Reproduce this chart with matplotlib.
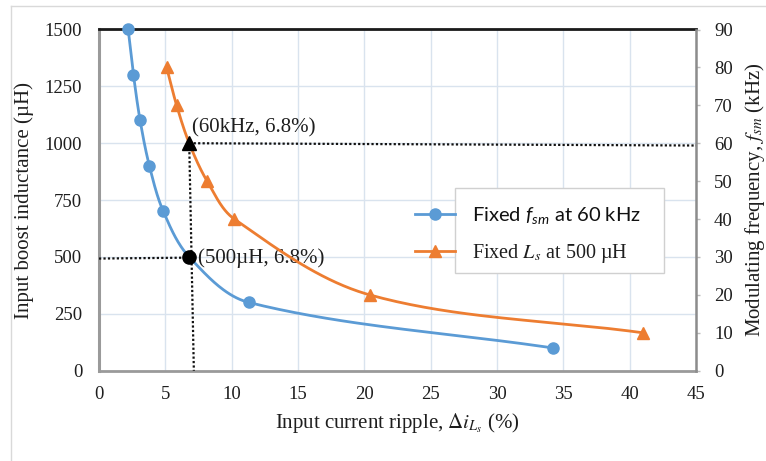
import numpy as np
import matplotlib
matplotlib.use("Agg")
import matplotlib.pyplot as plt
from matplotlib.patches import Rectangle
from matplotlib.lines import Line2D

# Fixed modulating frequency (60 kHz): inductance vs. ripple
ripple_fixed_f = [2.2, 2.6, 3.1, 3.8, 4.85, 6.8, 11.3, 34.2]
inductance_uH = [1500, 1300, 1100, 900, 700, 500, 300, 100]

# Fixed inductance (500 uH): modulating frequency vs. ripple
ripple_fixed_L = [5.1, 5.85, 6.8, 8.15, 10.2, 20.4, 41.0]
freq_kHz = [80, 70, 60, 50, 40, 20, 10]

# Highlighted design point
design_ripple = 6.8
design_L = 500
design_f = 60

x_ticks = [0, 5, 10, 15, 20, 25, 30, 35, 40, 45]
left_ticks = [0, 250, 500, 750, 1000, 1250, 1500]
right_ticks = [0, 10, 20, 30, 40, 50, 60, 70, 80, 90]

BLUE = "#5B9BD5"
ORANGE = "#ED7D31"
GRID = "#D9E3EE"
SERIF = "Liberation Serif"
TXT = "#1E1E1E"

plt.rcParams["mathtext.fontset"] = "custom"
plt.rcParams["mathtext.rm"] = "Lato"
plt.rcParams["mathtext.it"] = "Lato:italic"
plt.rcParams["mathtext.bf"] = "Lato:bold"


def smooth(ax, xs, ys, n=40, k=0.33):
    """Bezier smoothing in display space; handle length follows each chord."""
    pts = ax.transData.transform(np.column_stack([xs, ys]))
    P = np.vstack([pts[0], pts, pts[-1]])
    out = []
    t = np.linspace(0, 1, n)[:, None]

    def unit(v):
        nrm = np.hypot(*v)
        return v / nrm if nrm > 0 else v

    for i in range(1, len(P) - 2):
        p0, p1, p2, p3 = P[i - 1], P[i], P[i + 1], P[i + 2]
        L = np.hypot(*(p2 - p1))
        c1 = p1 + unit(p2 - p0) * L * k
        c2 = p2 - unit(p3 - p1) * L * k
        seg = ((1 - t) ** 3) * p1 + 3 * ((1 - t) ** 2) * t * c1 + 3 * (1 - t) * t ** 2 * c2 + t ** 3 * p2
        out.append(seg if i == 1 else seg[1:])
    curve = np.vstack(out)
    d = ax.transData.inverted().transform(curve)
    return d[:, 0], d[:, 1]


fig = plt.figure(figsize=(7.66, 4.61), dpi=100)
fig.patch.set_facecolor("white")
W, H = 766, 461

# thin outer frame
fig.add_artist(Line2D([11 / W, 1.0], [1 - 6 / H, 1 - 6 / H], transform=fig.transFigure, color="#D9D9D9", lw=1.0))
fig.add_artist(Line2D([11 / W, 11 / W], [0.0, 1 - 6 / H], transform=fig.transFigure, color="#D9D9D9", lw=1.0))

ax = fig.add_axes([99 / W, 1 - 370.7 / H, (696 - 99) / W, (370.7 - 29.5) / H])
ax2 = ax.twinx()

ax.set_xlim(0, 45)
ax.set_ylim(0, 1500)
ax2.set_ylim(0, 90)

ax.set_xticks(x_ticks)
ax.set_yticks(left_ticks)
ax2.set_yticks(right_ticks)

ax.grid(True, color=GRID, lw=1.0)
ax.set_axisbelow(True)

for a in (ax, ax2):
    for s in a.spines.values():
        s.set_visible(False)
ax.spines["left"].set_visible(True)
ax.spines["left"].set_color("#9A9A9A")
ax.spines["left"].set_linewidth(2.2)
ax.spines["bottom"].set_visible(True)
ax.spines["bottom"].set_color("#9A9A9A")
ax.spines["bottom"].set_linewidth(2.0)
ax.spines["top"].set_visible(True)
ax.spines["top"].set_color("#1A1A1A")
ax.spines["top"].set_linewidth(2.0)
ax2.spines["right"].set_visible(True)
ax2.spines["right"].set_color("#8C8C8C")
ax2.spines["right"].set_linewidth(1.8)

ax.tick_params(axis="both", length=0, labelsize=13.5, colors=TXT)
ax.tick_params(axis="x", pad=11)
ax.tick_params(axis="y", pad=12)
ax2.tick_params(axis="y", length=3, width=1, color="#BBBBBB", labelsize=13.5, labelcolor=TXT, pad=10)
for lab in ax.get_xticklabels() + ax.get_yticklabels() + ax2.get_yticklabels():
    lab.set_fontfamily(SERIF)

ax.set_xlabel(r"Input current ripple, $\Delta i_{L_s}$ (%)", fontsize=15, family=SERIF,
              math_fontfamily="stix", labelpad=6, color=TXT)
ax.set_ylabel("Input boost inductance (\u00b5H)", fontsize=15, family=SERIF, labelpad=8, color=TXT)
ax2.set_ylabel(r"Modulating frequency, $f_{sm}$ (kHz)", fontsize=15, family=SERIF,
               math_fontfamily="stix", labelpad=7, color=TXT)

ax.figure.canvas.draw()

# series
bx, by = smooth(ax, ripple_fixed_f, inductance_uH)
ax.plot(bx, by, color=BLUE, lw=2.0, zorder=3)
ax.plot(ripple_fixed_f, inductance_uH, "o", color=BLUE, ms=8, zorder=4, clip_on=False)

ox, oy = smooth(ax2, ripple_fixed_L, freq_kHz)
ax2.plot(ox, oy, color=ORANGE, lw=2.0, zorder=3)
ax2.plot(ripple_fixed_L, freq_kHz, "^", color=ORANGE, ms=8, zorder=4)

# design point guides
ax.plot([design_ripple, 7.15], [1000, 0], ls=(0, (1, 1)), color="#111111", lw=1.6, zorder=5)
ax2.plot([design_ripple, 45], [design_f, 59.4], ls=(0, (1, 1)), color="#111111", lw=1.6, zorder=5)
ax.plot([0, design_ripple], [493, 497], ls=(0, (1, 1)), color="#111111", lw=1.6, zorder=5)

ax.plot([design_ripple], [design_L], "o", color="black", ms=9.5, zorder=6)
ax2.plot([design_ripple], [design_f], "^", color="black", ms=9.5, zorder=6)

ax.annotate(f"({design_f}kHz, {design_ripple}%)", (design_ripple, 1000), xytext=(2, 11),
            textcoords="offset points", fontsize=15, family=SERIF, color=TXT, va="center")
ax.annotate(f"({design_L}\u00b5H, {design_ripple}%)", (design_ripple, design_L), xytext=(6.5, -0.5),
            textcoords="offset points", fontsize=15, family=SERIF, color=TXT, va="center")

# legend (handles sit just outside the box)
h1 = Line2D([], [], color=BLUE, lw=2.0, marker="o", ms=8)
h2 = Line2D([], [], color=ORANGE, lw=2.0, marker="^", ms=8)
leg = ax.legend([h1, h2], [r"Fixed $f_{sm}$ at 60 kHz", r"Fixed $L_s$ at 500 µH"],
                loc="upper left", bbox_to_anchor=((415 - 99) / 597, (370.7 - 205) / 341.2),
                frameon=False, borderpad=0, borderaxespad=0, handlelength=2.0,
                handletextpad=0.85, labelspacing=0.78, fontsize=14.5)
t1, t2 = leg.get_texts()
t1.set_fontfamily("Lato")
t1.set_fontsize(14.5)
t1.set_color("#111111")
t2.set_fontfamily(SERIF)
t2.set_math_fontfamily("stix")
t2.set_color(TXT)
leg.set_zorder(8)
ax.add_patch(Rectangle(((455 - 99) / 597, (370.7 - 273) / 341.2), (664 - 455) / 597, (273 - 188) / 341.2,
                       transform=ax.transAxes, facecolor="white", edgecolor="#D0D0D0", lw=1.0, zorder=7))

fig.savefig("out.png", dpi=100, facecolor="white")
